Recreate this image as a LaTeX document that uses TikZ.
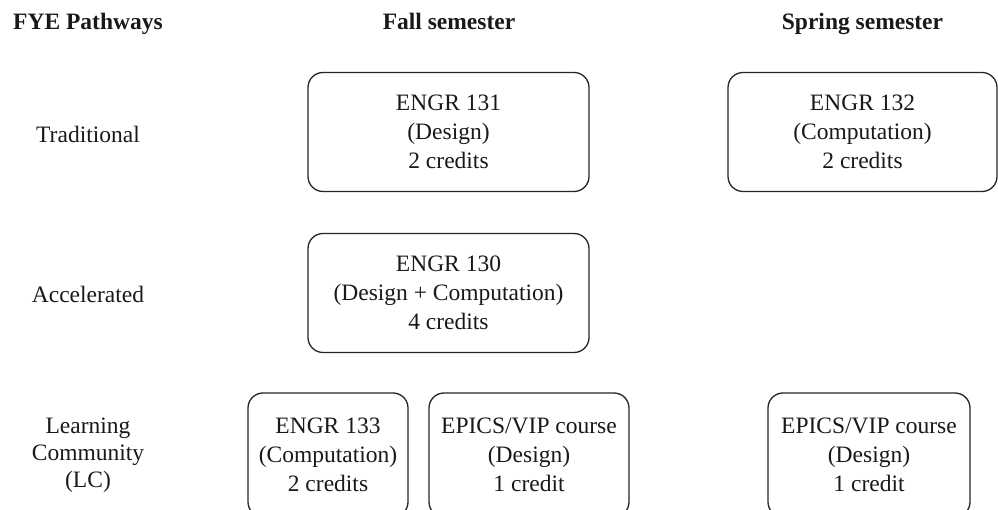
\documentclass[tikz,border=0pt]{standalone}
\usepackage{fontspec}
\setmainfont{Liberation Serif}
\begin{document}
\begin{tikzpicture}[x=1pt,y=1pt,
  txt/.style={font=\fontsize{23.5}{29}\selectfont, text=black!90, inner sep=0pt},
  head/.style={font=\fontsize{23.5}{29}\selectfont\bfseries, text=black!90, inner sep=0pt},
  course/.style={txt, draw=black!85, line width=1.3pt, rounded corners=15pt, align=center, minimum height=119pt}]
\useasboundingbox[fill=white] (0,0) rectangle (998,-510);
% headers
\node[head, anchor=base west] (hpath) at (13,-30) {FYE Pathways};
\node[head, anchor=base] (hfall) at (449,-30) {Fall semester};
\node[head, anchor=base] (hspring) at (862.5,-30) {Spring semester};
% row labels
\node[txt] (rtrad) at (88,-134) {Traditional};
\node[txt] (racc) at (88,-294) {Accelerated};
\node[txt, align=center, font=\fontsize{23.5}{27}\selectfont] (rlc) at (88,-455) {Learning\\Community\\(LC)};
% courses
\node[course, minimum width=281pt] (e131) at (448.5,-132) {ENGR 131\\(Design)\\2 credits};
\node[course, minimum width=269pt] (e132) at (862.5,-132) {ENGR 132\\(Computation)\\2 credits};
\node[course, minimum width=281pt] (e130) at (448.5,-293) {ENGR 130\\(Design + Computation)\\4 credits};
\node[course, minimum width=160pt, minimum height=124pt] (e133) at (328,-455) {ENGR 133\\(Computation)\\2 credits};
\node[course, minimum width=200pt, minimum height=124pt] (epf) at (529,-455) {EPICS/VIP course\\(Design)\\1 credit};
\node[course, minimum width=202pt, minimum height=124pt] (eps) at (869,-455) {EPICS/VIP course\\(Design)\\1 credit};
\end{tikzpicture}
\end{document}
